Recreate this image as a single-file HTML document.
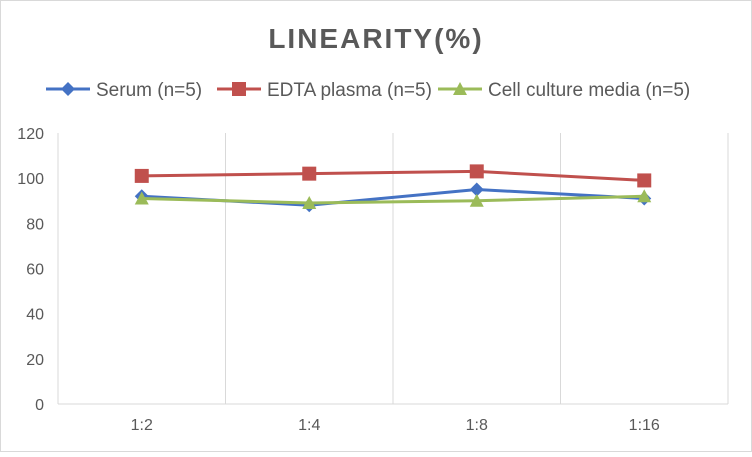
<!DOCTYPE html>
<html><head><meta charset="utf-8"><style>
body{margin:0;background:#fff;font-family:"Liberation Sans",sans-serif}
svg text{font-family:"Liberation Sans",sans-serif}
</style></head><body>
<svg width="752" height="452">
<rect x="0.5" y="0.5" width="751" height="451" fill="#fff" stroke="#d9d9d9"/>
<text x="376" y="48" text-anchor="middle" font-size="28" font-weight="bold" fill="#595959" letter-spacing="2">LINEARITY(%)</text>
<g id="legend"></g>
<g id="grid"></g>
<g id="axes"></g>
<g id="series"></g>
</svg>
<script>
const categories=["1:2","1:4","1:8","1:16"];
const serum=[92,88,95,91];
const edta=[101,102,103,99];
const cell=[91,89,90,92];
const yTicks=[0,20,40,60,80,100,120];
const NS="http://www.w3.org/2000/svg";
const L=58,R=728,T=133,B=404,yMax=120;
const bw=(R-L)/categories.length;
const xS=i=>L+bw*(i+0.5);
const yS=v=>B-(v/yMax)*(B-T);
function mk(p,tag,a){const e=document.createElementNS(NS,tag);for(const k in a)e.setAttribute(k,a[k]);p.appendChild(e);return e;}
const grid=document.getElementById('grid'),axes=document.getElementById('axes'),ser=document.getElementById('series'),leg=document.getElementById('legend');
for(let i=0;i<=categories.length;i++){const l=mk(grid,'line',{x1:L+bw*i,x2:L+bw*i,y1:T,y2:B,stroke:'#d9d9d9'});}
mk(axes,'line',{x1:L,x2:R,y1:B,y2:B,stroke:'#d9d9d9'});
yTicks.forEach(v=>{const t=mk(axes,'text',{x:L-14,y:yS(v)+6,'text-anchor':'end','font-size':16,fill:'#595959'});t.textContent=v;});
categories.forEach((c,i)=>{const t=mk(axes,'text',{x:xS(i),y:430,'text-anchor':'middle','font-size':16,fill:'#595959'});t.textContent=c;});
function marker(p,type,x,y,col){let e;
 if(type==='d')e=mk(p,'polygon',{points:`${x},${y-7} ${x+7},${y} ${x},${y+7} ${x-7},${y}`,fill:col});
 else if(type==='s')e=mk(p,'rect',{x:x-7,y:y-7,width:14,height:14,fill:col});
 else e=mk(p,'polygon',{points:`${x},${y-7} ${x+7},${y+6} ${x-7},${y+6}`,fill:col});
 }
const defs=[[serum,'#4472c4','d','Serum (n=5)'],[edta,'#c0504d','s','EDTA plasma (n=5)'],[cell,'#9bbb59','t','Cell culture media (n=5)']];
defs.forEach(([vals,col,m])=>{const g=mk(ser,'g',{});
 mk(g,'polyline',{points:vals.map((v,i)=>xS(i)+','+yS(v)).join(' '),fill:'none',stroke:col,'stroke-width':3});
 vals.forEach((v,i)=>marker(g,m,xS(i),yS(v),col));});
const lx=[46,217,438];
defs.forEach(([v,col,m,name],k)=>{const g=mk(leg,'g',{});
 mk(g,'line',{x1:lx[k],x2:lx[k]+44,y1:89,y2:89,stroke:col,'stroke-width':3});marker(g,m,lx[k]+22,89,col);
 const t=mk(g,'text',{x:lx[k]+50,y:96,'font-size':19,fill:'#595959'});t.textContent=name;});
</script>
</body></html>
